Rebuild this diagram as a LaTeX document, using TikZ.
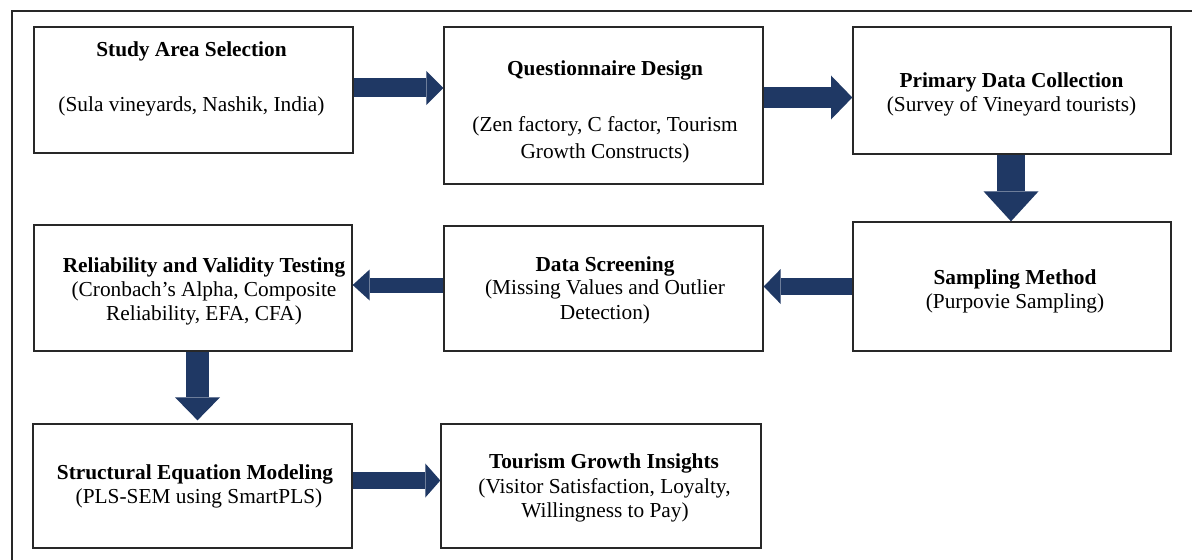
\documentclass[tikz,border=0pt]{standalone}
\usepackage{fontspec}
\setmainfont{Liberation Serif}
\usetikzlibrary{arrows.meta}
\definecolor{navy}{RGB}{31,56,100}
\definecolor{frameline}{RGB}{40,40,40}
\begin{document}
\begin{tikzpicture}[x=0.75pt,y=-0.75pt,
  box/.style={draw=frameline,line width=1pt,inner sep=0pt},
  txt/.style={anchor=base,inner sep=0pt,font=\fontsize{16}{18}\selectfont},
  ttl/.style={txt,font=\fontsize{16}{18}\selectfont\bfseries},
  fat/.style n args={3}{draw=navy,line width=#1,
    -{Triangle[length=#2,width=#3,line width=0pt,color=navy]}}]
\useasboundingbox (0,0) rectangle (1192,560);
\fill[white] (0,0) rectangle (1192,560);
% outer frame (open to the right and bottom)
\draw[frameline,line width=1.4pt] (12,560) -- (12,11) -- (1192,11);

% process boxes
\node[box,minimum width=239.25pt,minimum height=94.5pt]  (b1) at (193.5,90)  {};
\node[box,minimum width=239.25pt,minimum height=117.75pt](b2) at (603.5,105.5){};
\node[box,minimum width=238.5pt,minimum height=95.25pt]  (b3) at (1012,90.5) {};
\node[box,minimum width=238.5pt,minimum height=96.75pt]  (b4) at (1012,286.5){};
\node[box,minimum width=239.25pt,minimum height=93.75pt] (b5) at (603.5,288.5){};
\node[box,minimum width=238.5pt,minimum height=94.5pt]   (b6) at (193,288)  {};
\node[box,minimum width=239.25pt,minimum height=93pt]    (b7) at (192.5,486){};
\node[box,minimum width=240pt,minimum height=93pt]       (b8) at (601,486)  {};

% box texts
\node[ttl] (t1a) at (191.5,57) {Study Area Selection};
\node[txt] (t1b) at (191.5,111) {(Sula vineyards, Nashik, India)};

\node[ttl] (t2a) at (605,76) {Questionnaire Design};
\node[txt] (t2b) at (605,131) {(Zen factory, C factor, Tourism};
\node[txt] (t2c) at (605,158) {Growth Constructs)};

\node[ttl] (t3a) at (1011.5,88) {Primary Data Collection};
\node[txt] (t3b) at (1011.5,112) {(Survey of Vineyard tourists)};

\node[ttl] (t4a) at (1015,284) {Sampling Method};
\node[txt] (t4b) at (1015,308) {(Purpovie Sampling)};

\node[ttl] (t5a) at (605,271) {Data Screening};
\node[txt] (t5b) at (605,294) {(Missing Values and Outlier};
\node[txt] (t5c) at (605,319) {Detection)};

\node[ttl] (t6a) at (204,272) {Reliability and Validity Testing};
\node[txt] (t6b) at (204,296) {(Cronbach's Alpha, Composite};
\node[txt] (t6c) at (204,320) {Reliability, EFA, CFA)};

\node[ttl] (t7a) at (195,479) {Structural Equation Modeling};
\node[txt] (t7b) at (199,503) {(PLS-SEM using SmartPLS)};

\node[ttl] (t8a) at (604,468) {Tourism Growth Insights};
\node[txt] (t8b) at (604.5,493) {(Visitor Satisfaction, Loyalty,};
\node[txt] (t8c) at (605,517) {Willingness to Pay)};

% block arrows between the steps
\draw[fat={14.25pt}{12.75pt}{25.5pt}]  (b1.east |- 0,88)    -- (b2.west |- 0,88);
\draw[fat={15.75pt}{16pt}{33pt}]      (b2.east |- 0,97.5)  -- (b3.west |- 0,97.5);
\draw[fat={21pt}{22.5pt}{41.25pt}]    (b3.south -| 1011,0) -- (b4.north -| 1011,0);
\draw[fat={12.75pt}{12.75pt}{26.25pt}](b4.west |- 0,286.5) -- (b5.east |- 0,286.5);
\draw[fat={11.25pt}{12.75pt}{23.25pt}](b5.west |- 0,285)   -- (b6.east |- 0,285);
\draw[fat={17.25pt}{17.25pt}{33.75pt},shorten >=2.25pt]
                                       (b6.south -| 197.5,0) -- (b7.north -| 197.5,0);
\draw[fat={12.75pt}{11.25pt}{25.5pt}] (b7.east |- 0,480.5) -- (b8.west |- 0,480.5);
\end{tikzpicture}
\end{document}
